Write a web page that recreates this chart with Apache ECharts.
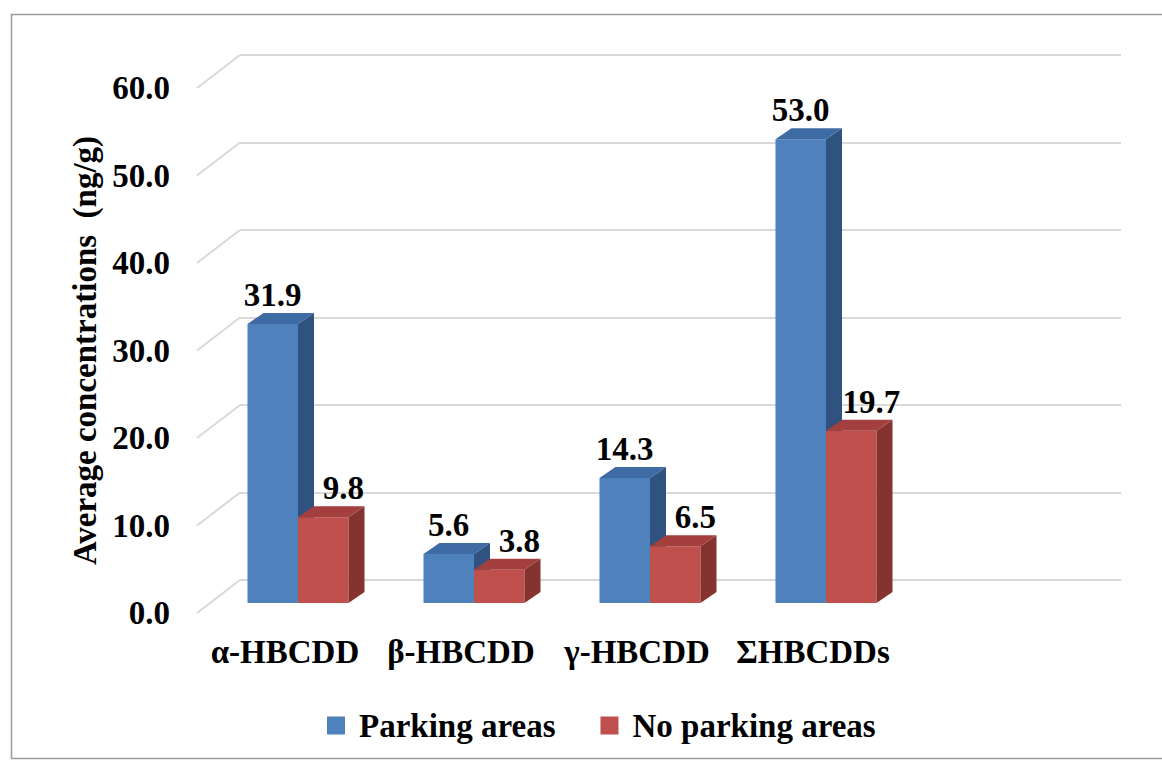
<!DOCTYPE html>
<html><head><meta charset="utf-8">
<script src="https://cdn.jsdelivr.net/npm/echarts@6/dist/echarts.min.js"></script>
<style>html,body{margin:0;padding:0;background:#fff}#c{width:1162px;height:763px}</style>
</head><body><div id="c"></div>
<script>
const categories = ['α-HBCDD', 'β-HBCDD', 'γ-HBCDD', 'ΣHBCDDs'];
const parking = [31.9, 5.6, 14.3, 53.0];
const noParking = [9.8, 3.8, 6.5, 19.7];
const seriesNames = ['Parking areas', 'No parking areas'];
const yTicks = [0, 10, 20, 30, 40, 50, 60];
const yTitle = 'Average concentrations  (ng/g)';

const FONT = "'Liberation Serif', 'Times New Roman', Times, serif";
const FS = 33;
const DX = 16, DY = -11;          // bar depth offset
const WALL_DX = 43, WALL_DY = -33; // floor/wall depth offset
const GRID_COLOR = '#D9D9D9';
const LABEL_SHIFT = [0, 20];      // data label horizontal shift per series
const palette = [
  { front: '#4F81BD', top: '#3E6BA3', side: '#2F5280' },
  { front: '#C0504D', top: '#A33F3C', side: '#843331' }
];

function barRender(si) {
  return function (params, api) {
    const ci = api.value(0), v = api.value(1);
    const base = api.coord([ci, 0]);
    const tp = api.coord([ci, v]);
    const band = api.size([1, 0])[0];
    const w = band * 0.287;
    const x0 = base[0] + (si === 0 ? -w : 0);
    const x1 = x0 + w;
    const y0 = base[1], y1 = tp[1];
    const c = palette[si];
    return {
      type: 'group', children: [
        { type: 'rect', shape: { x: x0, y: y1, width: w, height: y0 - y1 }, style: { fill: c.front } },
        { type: 'polygon', shape: { points: [[x1, y1], [x1 + DX, y1 + DY], [x1 + DX, y0 + DY], [x1, y0]] }, style: { fill: c.side } },
        { type: 'polygon', shape: { points: [[x0, y1], [x0 + DX, y1 + DY], [x1 + DX, y1 + DY], [x1, y1]] }, style: { fill: c.top } },
        { type: 'text', x: (x0 + x1) / 2 + LABEL_SHIFT[si], y: y1 - 29,
          style: { text: v.toFixed(1), fontSize: FS, fontWeight: 'bold', fontFamily: FONT, fill: '#000', align: 'center', verticalAlign: 'middle' } }
      ]
    };
  };
}

const chart = echarts.init(document.getElementById('c'), null, { renderer: 'svg' });
chart.setOption({
  backgroundColor: '#fff',
  animation: false,
  textStyle: { fontFamily: FONT },
  graphic: [{
    type: 'rect', left: 9, top: 12, silent: true,
    shape: { width: 1170, height: 744 },
    style: { fill: 'none', stroke: '#9A9A9A', lineWidth: 1.5 }
  }],
  legend: {
    data: seriesNames,
    left: 322, top: 704,
    itemWidth: 18, itemHeight: 18, itemGap: 45, icon: 'rect',
    textStyle: { fontFamily: FONT, fontWeight: 'bold', fontSize: FS, color: '#000', padding: [0, 0, 0, 9] }
  },
  grid: [
    { left: 240, top: 55, width: 881, height: 525 },   // back wall
    { left: 197, top: 88, width: 704, height: 525 },   // front plane (labels)
    { left: 210, top: 78, width: 704, height: 525 }    // bars front faces
  ],
  xAxis: [
    { gridIndex: 0, type: 'value', min: 0, max: 1, show: false },
    { gridIndex: 1, type: 'category', data: categories,
      axisLine: { show: false }, axisTick: { show: false },
      axisLabel: { interval: 0, margin: 22, fontFamily: FONT, fontWeight: 'bold', fontSize: FS, color: '#000' } },
    { gridIndex: 2, type: 'category', data: categories, show: false }
  ],
  yAxis: [
    { gridIndex: 0, type: 'value', min: 0, max: 60, interval: 10,
      axisLine: { show: false }, axisTick: { show: false }, axisLabel: { show: false },
      splitLine: { show: true, lineStyle: { color: GRID_COLOR, width: 2 } } },
    { gridIndex: 1, type: 'value', min: 0, max: 60, interval: 10,
      axisLine: { show: false }, axisTick: { show: false }, splitLine: { show: false },
      axisLabel: { margin: 27, fontFamily: FONT, fontWeight: 'bold', fontSize: FS, color: '#000',
        formatter: v => v.toFixed(1) },
      name: yTitle, nameLocation: 'middle', nameGap: 93,
      nameTextStyle: { fontFamily: FONT, fontWeight: 'bold', fontSize: FS, color: '#000' } },
    { gridIndex: 2, type: 'value', min: 0, max: 60, show: false }
  ],
  series: [
    { type: 'custom', xAxisIndex: 0, yAxisIndex: 0, silent: true,
      data: yTicks.map(v => [0, v]),
      renderItem: (p, api) => {
        const pt = api.coord([0, api.value(1)]);
        return { type: 'line', shape: { x1: pt[0] - WALL_DX, y1: pt[1] - WALL_DY, x2: pt[0], y2: pt[1] },
          style: { stroke: GRID_COLOR, lineWidth: 2 } };
      } },
    { name: seriesNames[0], type: 'custom', xAxisIndex: 2, yAxisIndex: 2,
      itemStyle: { color: palette[0].front },
      data: parking.map((v, i) => [i, v]), renderItem: barRender(0) },
    { name: seriesNames[1], type: 'custom', xAxisIndex: 2, yAxisIndex: 2,
      itemStyle: { color: palette[1].front },
      data: noParking.map((v, i) => [i, v]), renderItem: barRender(1) }
  ]
});
</script>
</body></html>
